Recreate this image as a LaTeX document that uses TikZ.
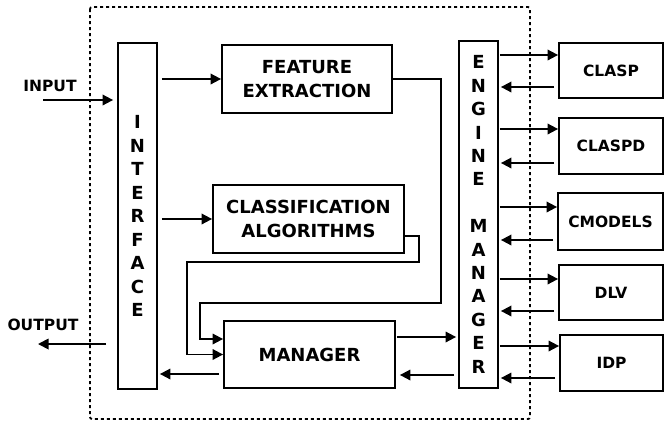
\documentclass[tikz,border=0pt]{standalone}
\usepackage{fontspec}
\setmainfont{DejaVu Sans}
\usetikzlibrary{arrows.meta,calc}
\begin{document}
\begin{tikzpicture}[x=1pt,y=-1pt,
  line width=1.8pt,
  box/.style={draw,line width=1.8pt,inner sep=0pt,align=center},
  big/.style={font=\bfseries\fontsize{18}{23.5}\selectfont},
  small/.style={font=\bfseries\fontsize{15.5}{19}\selectfont},
  arr/.style={-{Triangle[length=10.5pt,width=10.5pt]},line width=1.8pt},
  frame/.style={line width=1.8pt,dash pattern=on 3pt off 3pt,rounded corners=2pt}]
\useasboundingbox (0,0) rectangle (665,421);
\draw[frame] (90,7) rectangle (530,419);

\node[box,big,minimum width=39pt,minimum height=346pt] (iface) at (137.5,216)
  {I\\N\\T\\E\\R\\F\\A\\C\\E};
\node[box,big,font=\bfseries\fontsize{18}{23.4}\selectfont,minimum width=39pt,minimum height=347pt] (eng) at (478.5,214.5)
  {E\\N\\G\\I\\N\\E\\\mbox{}\\M\\A\\N\\A\\G\\E\\R};
\node[box,big,minimum width=170pt,minimum height=68pt] (fe) at (307,79) {FEATURE\\EXTRACTION};
\node[box,big,minimum width=191pt,minimum height=68pt] (ca) at (308.5,219) {CLASSIFICATION\\ALGORITHMS};
\node[box,big,minimum width=171pt,minimum height=67pt] (mg) at (309.5,354.5) {MANAGER};

\node[box,small,minimum width=104pt,minimum height=55pt] (clasp) at (611,70.5) {CLASP};
\node[box,small,minimum width=104pt,minimum height=56pt] (claspd) at (611,146) {CLASPD};
\node[box,small,minimum width=105pt,minimum height=57pt] (cmodels) at (610.5,221.5) {CMODELS};
\node[box,small,minimum width=104pt,minimum height=55pt] (dlv) at (611,292.5) {DLV};
\node[box,small,minimum width=103pt,minimum height=56pt] (idp) at (611.5,363) {IDP};

\node[small,inner sep=0pt] (inlbl) at (50,86) {INPUT};
\node[small,inner sep=0pt] (outlbl) at (43,325) {OUTPUT};

% input / output
\coordinate (inS) at (43,100);
\draw[arr,shorten >=4pt] (inS) -- (inS -| iface.west);
\coordinate (outE) at (38,344);
\draw[arr,shorten <=11pt] (outE -| iface.west) -- (outE);

% interface to boxes
\draw[arr,shorten <=4pt] (iface.east |- fe.west) -- (fe.west);
\draw[arr,shorten <=4pt] (iface.east |- ca.west) -- (ca.west);

% feature extraction to manager
\draw[arr] (fe.east) -- ++(48,0) -- ++(0,224) -| ([xshift=-23pt,yshift=15.5pt]mg.west) -- ([yshift=15.5pt]mg.west);
% classification to manager
\draw[arr] ([yshift=-17pt]ca.east) -- ++(14,0) -- ++(0,26) -| ([xshift=-36pt]mg.west) -- (mg.west);

% manager <-> engine
\coordinate (m1) at ([yshift=17.5pt]mg.east);
\draw[arr,shorten <=1pt,shorten >=2pt] (m1) -- (m1 -| eng.west);
\coordinate (m2) at ([yshift=-20.5pt]mg.east);
\draw[arr,shorten <=4pt,shorten >=4pt] (m2 -| eng.west) -- (m2);

% manager to interface
\coordinate (m3) at ([yshift=-19.5pt]mg.west);
\draw[arr,shorten <=4pt,shorten >=2pt] (m3) -- (m3 -| iface.east);

% engine <-> solvers
\foreach \b/\o/\k in {clasp/15.5/-16.5, claspd/17/-17, cmodels/14.5/-18.5, dlv/13.5/-18.5, idp/17/-15}{
  \coordinate (\b-o) at ([yshift=\o pt]\b.west);
  \coordinate (\b-k) at ([yshift=\k pt]\b.west);
  \draw[arr,shorten <=1pt] (\b-o -| eng.east) -- (\b-o);
  \draw[arr,shorten <=4pt,shorten >=2pt] (\b-k) -- (\b-k -| eng.east);
}
\end{tikzpicture}
\end{document}
